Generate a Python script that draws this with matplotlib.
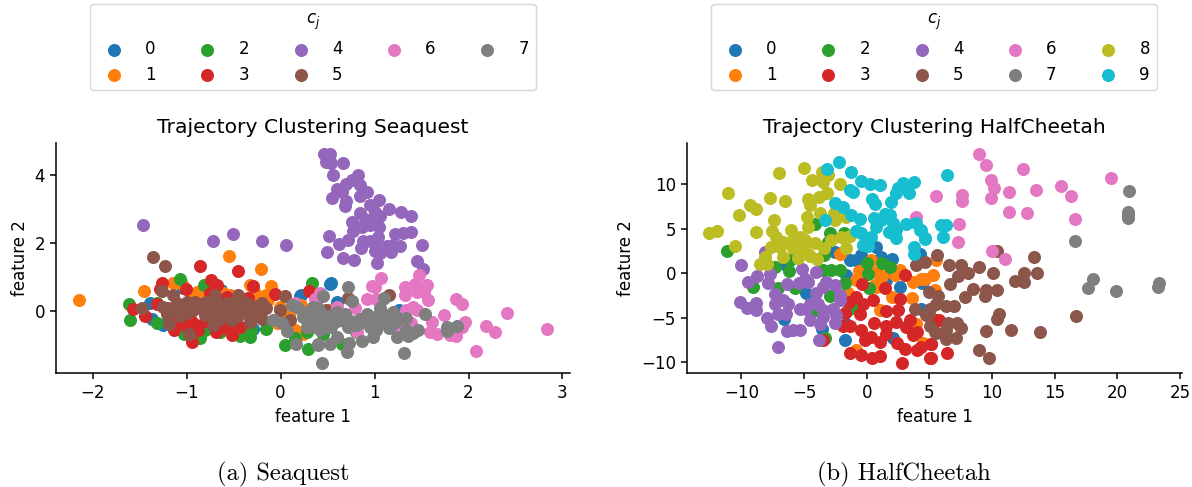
import matplotlib
matplotlib.use("Agg")
import matplotlib.pyplot as plt

#valores, um par de listas por cluster
sq_x_0 = [0.525, 0.213, -1.39, -1.37, -1.248, -1.035, -0.63, -0.29, 0.535, 0.596, 0.206, 1.26]
sq_y_0 = [0.81, 0.47, 0.23, -0.22, -0.41, 0.67, 0.62, -0.51, 0.83, 0.27, 0.45, 0.03]
sq_x_1 = [-2.14, -1.45, -0.546, -0.21, -1.14, -1.05, -0.326, -0.106, -0.894, -0.61, -0.54, -0.27, -0.15, -0.13, -0.18, -0.007, 0.1, 0.24, 0.15, 0.38, -0.04, 0.52, 0.22, -0.5, -0.4, -0.2, -0.25, -0.8, -0.95, 0.05, 0.1]
sq_y_1 = [0.34, 0.59, 1.62, 1.25, 0.84, 0.81, 0.76, 0.75, 0.57, 0.52, 0.47, 0.52, 0.47, 0.32, 0.08, 0.13, -0.02, -0.66, -0.56, -0.46, -0.36, 0.03, 0.18, 0.35, 0.35, 0.3, 0.4, 0.45, 0.45, -0.1, -0.45]
sq_x_2 = [-1.074, -0.81, 0.33, -1.617, -1.6, -1.32, -1.32, -1.025, -0.858, -0.8, -0.645, -0.433, -0.326, -0.31, -0.15, 0.046, 0.294, 0.15, 0.277, 0.454, 0.65, 0.8]
sq_y_2 = [0.94, 0.78, 0.84, 0.2, -0.27, -0.36, 0.23, -0.66, -0.8, -0.56, -0.61, -0.73, -0.77, -0.56, -0.53, -1.0, -1.12, -0.8, -0.61, -0.66, -0.95, -0.6]
sq_x_3 = [-0.858, -0.45, -0.738, -0.68, -0.29, -1.26, -1.284, -1.01, -0.06, 0.3, -1.32, -1.574, -1.447, -1.177, -1.13, -0.947, -1.035, -0.93, -0.876, -0.688, -0.52, -0.5, -0.43, -0.75, -0.344, -0.574, -0.965, -0.894, -0.95, -1.0, -0.6, -0.55, -0.8, -1.1]
sq_y_3 = [1.34, 1.17, 0.93, 0.76, 0.74, 0.84, 0.64, 0.66, 0.51, 0.59, 0.21, 0.05, -0.15, -0.05, -0.56, -0.9, -0.31, -0.36, -0.56, -0.61, -0.69, -0.51, -0.46, 0.52, 0.39, 0.42, -0.22, -0.46, -0.3, -0.45, -0.5, -0.35, -0.3, -0.35]
sq_x_4 = [-1.465, -0.72, -0.51, -0.2, 0.06, 0.46, 0.525, 0.48, 0.54, 0.667, 0.56, 0.826, 0.755, 0.7, 0.844, 0.596, 0.65, 0.915, 0.844, 0.55, 0.7, 0.685, 1.046, 0.95, 1.15, 1.277, 1.383, 0.844, 1.0, 1.057, 0.762, 0.897, 0.968, 0.862, 1.046, 0.95, 0.773, 0.52, 1.04, 1.216, 1.305, 1.383, 0.713, 0.624, 0.88, 0.95, 0.855, 1.02, 1.0, 1.135, 1.2, 1.27, 1.51, 1.18, 1.057, 0.667, 0.784, 1.03, 1.454, 1.518, 0.496]
sq_y_4 = [2.53, 2.06, 2.26, 2.07, 1.93, 4.62, 4.62, 4.39, 4.34, 4.34, 4.0, 4.0, 3.85, 3.75, 3.7, 3.6, 3.51, 3.51, 3.38, 3.31, 3.25, 3.09, 3.26, 3.12, 3.01, 2.92, 2.79, 2.89, 2.92, 2.79, 2.63, 2.7, 2.68, 2.48, 2.48, 2.53, 2.35, 2.2, 2.19, 2.28, 2.3, 2.33, 2.09, 1.96, 2.06, 2.06, 1.87, 1.89, 1.77, 1.92, 1.94, 1.92, 1.94, 1.73, 1.7, 1.55, 1.51, 1.42, 1.47, 1.23, 1.735]
sq_x_5 = [-1.358, -1.234, -1.47, -1.266, -1.15, -1.248, -1.213, -1.188, -1.07, -0.975, -1.106, -1.0, -0.91, -0.93, -0.79, -0.7, -0.716, -0.716, -0.82, -0.61, -0.45, -0.557, -0.468, -0.36, -0.52, -0.433, -0.326, -0.29, -0.2, -0.2, -0.24, -0.645, -0.007, 0.046, 0.1, 0.713, 1.156, 0.48, -1.2, -1.1, -1.0, -0.9, -0.85, -0.75, -0.65, -0.6, -0.55, -0.5, -0.4, -0.35, -0.3, -0.45, -0.25, -0.15, -0.7, -0.8, -1.05]
sq_y_5 = [1.59, 1.34, 0.09, 0.58, 0.49, 0.13, -0.07, -0.38, -0.15, -0.68, 0.23, 0.27, 0.27, 0.03, 0.27, 0.49, 0.03, -0.41, 0.08, -0.02, 0.47, 0.23, 0.23, 0.23, -0.26, -0.07, -0.31, 0.03, 0.23, -0.22, -0.02, -0.22, 0.03, 0.45, -0.26, 0.39, 0.47, 0.03, 0.1, 0.05, -0.05, 0.1, 0.2, 0.15, 0.2, 0.1, 0.0, 0.1, 0.1, 0.0, -0.15, -0.15, 0.15, 0.1, -0.1, -0.1, 0.15]
sq_x_6 = [1.064, 0.968, 1.0, 0.915, 1.02, 1.09, 1.32, 1.326, 1.43, 1.47, 1.553, 1.447, 1.525, 1.564, 1.87, 1.93, 1.737, 1.61, 1.588, 1.667, 1.8, 1.862, 1.96, 1.93, 2.19, 2.284, 2.408, 2.83, 2.075, 1.41, 1.34, 1.447, 1.39, 0.815, 0.79, 0.596, 0.42, 0.365, 1.16, 1.25, 0.383, 0.15]
sq_y_6 = [0.97, 0.74, 0.72, 0.35, 0.35, 0.37, 0.7, 0.47, 0.79, 1.06, 0.76, 0.57, 0.55, 0.34, 0.35, 0.21, -0.11, -0.31, -0.61, -0.68, -0.71, -0.74, -0.33, -0.46, -0.43, -0.61, -0.06, -0.53, -1.18, 0.13, 0.03, 0.03, -0.36, -0.61, 0.08, 0.13, 0.52, 0.37, -0.17, -0.46, 0.37, 0.23]
sq_x_7 = [0.713, 0.454, 0.755, 1.1, 0.436, 1.316, 0.71, 0.73, 0.87, 0.53, 0.4, 0.98, 1.24, 1.36, 1.33, 1.465, 1.404, 1.536, 1.333, 1.766, 1.766, 1.88, 1.2, 1.057, 1.09, 0.915, 0.844, 0.844, 0.596, 0.685, 0.72, 0.63, 0.54, 0.454, 0.42, 0.596, 0.277, 0.347, 0.24, 1.057, 1.02, 1.16, 1.21, 1.0, 0.42, 0.525, 0.12, 0.17, -0.08, 0.01, 0.064, 0.163, 0.394, 0.24, 0.35, 0.277, 0.49, 0.436, 0.3, 0.4, 0.45, 0.55, 0.6, 0.65, 0.75, 0.35, 0.5, 0.3, 0.95, 1.05, 1.1, 1.15, 0.95, 1.25, 1.15, 0.8]
sq_y_7 = [0.72, 0.45, 0.29, 0.39, -1.52, -1.23, -1.2, -0.92, -0.87, -0.95, -0.97, -0.75, -0.77, -0.74, -0.56, -0.56, -0.64, -0.09, -0.19, -0.46, -0.58, -0.43, -0.02, 0.08, -0.07, -0.07, -0.22, -0.34, -0.02, -0.07, -0.46, -0.26, -0.46, -0.36, -0.56, -0.75, -0.17, 0.13, -0.02, -0.36, -0.56, -0.31, -0.36, -0.17, -0.22, -0.22, 0.18, 0.13, -0.27, -0.36, -0.59, -0.97, -0.98, -0.17, -0.07, -0.46, -0.46, -0.26, 0.0, 0.1, -0.1, -0.1, -0.3, -0.15, -0.3, -0.3, -0.3, -0.45, -0.2, -0.2, -0.3, -0.15, -0.45, -0.25, -0.5, -0.4]

hc_x_0 = [0.77, -2.55, -1.36, -0.82, -0.43, 1.17, 2.02, 4.1, -1.62, 2.1, 2.63, 1.57, -4.87, -6.62, -1.76, -3.54, 2.1, 4.5, -6.4, 4.36, -1.62, 4.23, 4.44]
hc_y_0 = [2.96, 2.4, 1.46, 1.46, 2.02, 1.76, 1.54, 2.2, -0.22, 0.15, -1.54, -0.79, -2.21, -5.09, -7.45, -6.22, -7.23, -0.97, 0.9, -3.97, -5.66, 2.2, -1.16]
hc_x_1 = [-2.15, 0.37, -0.64, 0.77, 1.26, 2.63, 2.23, 3.7, 4.36, 5.29, 0.77, 2.02, 3.64, 1.04, -1.49, -0.82, 3.96, 4.5, -0.82, 5.56, 5.43, 0.64, 4.63]
hc_y_1 = [2.1, 1.46, 0.22, 0.15, -0.34, 0.34, -0.22, -0.97, -0.67, -0.22, -1.54, -2.73, -2.77, -4.16, -2.28, -0.79, -5.66, -7.79, -8.65, 1.46, -1.91, -1.35, -0.6]
hc_x_2 = [-11.12, -9.07, -7.34, -6.2, -6.14, -7.07, -5.74, -2.9, -1.84, -4.15, -3.09, -3.43, -3.48, -2.82, -2.15, -1.76, -2.95, 0.05, 1.2, 1.89, 0.13, 0.16, -3.3, -9.07, -4.02, -1.49, -0.82]
hc_y_2 = [2.51, -1.54, 0.64, 0.22, 1.46, -1.72, -1.72, 4.46, 4.46, 5.5, 3.52, 2.02, 0.34, 0.34, 0.34, -1.16, -2.58, 1.16, 1.09, 0.71, -0.04, -1.61, -7.23, -3.78, -4.16, -4.16, -3.78]
hc_x_3 = [3.06, -0.4, 1.44, 2.63, -0.82, -1.41, -1.76, -0.29, 0.5, -0.56, 1.52, 2.5, -1.89, -1.36, -0.43, 0.56, 1.57, 2.37, 3.43, 3.16, 0.37, 1.57, 3.7, -0.16, 1.09, 2.42, 3.03, 4.02, 5.16, -1.3, -0.43, 0.43, 1.04, 2.79, 5.08, 4.02, -3.48, 5.56, 5.11, 5.11, 6.44, 5.74, 4.36]
hc_y_3 = [-0.19, -1.27, -1.65, -2.92, -2.66, -3.22, -4.42, -3.41, -2.96, -4.53, -4.27, -4.16, -5.92, -5.96, -6.4, -5.58, -5.96, -5.47, -5.28, -6.03, -7.15, -6.78, -6.97, -7.53, -7.75, -7.79, -8.54, -8.65, -7.98, -8.91, -9.14, -9.48, -9.29, -10.07, -9.48, -6.6, -7.53, -5.28, -7.98, -9.51, -8.95, -5.28, -8.28]
hc_x_4 = [-10.03, -8.14, -8.75, -9.47, -7.87, -7.69, -10.11, -9.52, -8.8, -8.86, -7.34, -7.34, -6.68, -6.28, -7.07, -6.41, -7.95, -7.6, -6.36, -5.88, -5.3, -7.07, -6.36, -5.13, -4.07, -4.95, -4.68, -5.4, -2.55, -3.22, -3.48, -4.02, -2.15, -2.15, -4.55, -3.88, -5.35, -4.81, -3.48, -2.69, -2.42, -2.55, -4.55, -3.75, -3.48, -3.83]
hc_y_4 = [0.94, 2.4, -0.3, -0.94, -1.16, -0.04, -3.18, -3.9, -4.16, -3.3, -2.36, -3.41, -3.03, -3.41, -4.53, -4.53, -4.98, -5.88, -6.48, -6.4, -6.33, -8.31, -1.24, 0.52, 0.15, -0.6, -0.97, -1.16, -1.35, -0.97, -1.54, -2.28, -2.47, -3.03, -3.41, -3.41, -3.97, -3.97, -4.16, -3.97, -4.72, -5.58, -5.28, -5.66, -4.9, -7.45]
hc_x_5 = [10.4, 13.32, 5.61, 4.63, 6.6, 7.55, 8.96, 8.09, 7.29, 10.05, 12.58, 13.62, 11.86, 12.55, 6.65, 8.48, 10.43, 9.55, 9.44, 7.87, 4.97, 5.69, 5.56, 5.03, 6.3, 6.97, 4.76, 10.56, 10.4, 16.73, 5.03, 5.5, 6.49, 7.2, 7.55, 6.36, 6.36, 7.15, 9.52, 11.54, 13.86, 8.96, 9.73, 3.96, 3.83, 4.89, 5.43]
hc_y_5 = [2.51, 1.76, 2.02, 1.27, 0.9, 0.97, 0.64, 0.07, -0.3, 0.0, 0.0, 0.0, -0.86, -0.97, -1.2, -1.8, -1.91, -1.91, -2.55, -2.66, -2.13, -2.55, -3.41, -3.97, -3.67, -3.67, -4.72, -4.53, -5.17, -4.79, -5.92, -6.67, -5.58, -5.54, -6.1, -6.4, -7.34, -7.23, -6.52, -6.4, -6.59, -8.61, -9.48, 0.97, -4.04, -4.53, -6.6]
hc_x_6 = [8.96, 9.52, 12.45, 9.92, 10.16, 19.47, 15.48, 16.3, 13.5, 11.36, 9.92, 7.63, 7.58, 5.5, 11.38, 12.82, 16.62, 7.34, 7.29, 9.97, 11.04, 3.91]
hc_y_6 = [13.37, 12.1, 11.69, 10.41, 9.55, 10.71, 9.78, 8.61, 9.33, 9.14, 8.43, 8.76, 8.05, 8.69, 6.85, 6.7, 6.03, 5.5, 3.48, 2.43, 1.61, 6.33]
hc_x_7 = [20.96, 20.82, 20.85, 20.85, 16.62, 18.06, 17.63, 19.87, 23.32, 23.27]
hc_y_7 = [9.18, 6.89, 6.52, 6.14, 3.6, -0.67, -1.65, -2.02, -1.16, -1.54]
hc_x_8 = [-12.55, -11.94, -10.5, -11.09, -10.19, -9.34, -8.8, -7.74, -6.54, -6.97, -4.97, -3.54, -3.09, -4.34, -3.48, -2.13, -8.8, -7.39, -7.53, -7.2, -3.2, -3.8, -4.68, -4.5, -4.8, -3.75, -2.63, -2.55, -1.62, -4.68, -6.0, -5.35, -5.88, -4.95, -6.67, -7.6, -8.14, -8.54, -7.95, -6.67, -5.48, -4.68, -4.15, -3.96, -3.43, -2.82, -2.02, -1.36, -1.62, -6.94, -5.88, -5.08, -4.5]
hc_y_8 = [4.46, 4.68, 3.07, 8.99, 6.55, 7.64, 7.19, 8.39, 8.09, 11.27, 11.8, 11.31, 11.0, 10.45, 10.26, 9.96, 4.61, 5.96, 4.76, 4.08, 8.95, 8.58, 8.35, 7.64, 6.33, 6.7, 6.7, 5.96, 6.33, 5.2, 4.83, 4.08, 3.7, 3.7, 3.52, 2.88, 1.84, 1.0, 1.0, 1.84, 1.65, 2.2, 3.33, 1.54, 2.77, 3.7, 4.0, 4.16, 2.85, 2.96, 2.77, 2.96, 1.9]
hc_x_9 = [-2.18, -3.16, -1.28, -0.43, 0.24, 1.04, 3.78, 2.9, 2.5, 3.38, 2.37, 1.97, -1.36, -1.09, 0.45, 0.69, -2.5, -1.89, -1.22, -0.56, -3.32, 1.44, 1.84, 0.59, 1.17, 0.77, 2.1, 1.78, 2.37, 2.31, 3.16, 3.96, 4.23, 4.65, -0.82, -0.43, 0.37, -0.29, 0.11, 3.75, 3.8, 6.44, 5.96, 6.3, 6.09, 4.63, 4.36]
hc_y_9 = [12.5, 11.72, 11.31, 10.37, 10.04, 9.89, 10.22, 10.07, 9.59, 8.95, 8.95, 8.0, 9.33, 9.06, 8.28, 7.75, 7.83, 7.45, 6.52, 6.1, 5.96, 6.63, 6.52, 6.14, 5.96, 5.13, 5.58, 4.64, 4.83, 3.97, 5.47, 5.58, 4.83, 3.9, 4.76, 4.46, 4.0, 3.15, 3.03, 2.88, 2.2, 10.97, 5.39, 5.39, 4.08, 3.86, 4.83]

sq_x = [sq_x_0, sq_x_1, sq_x_2, sq_x_3, sq_x_4, sq_x_5, sq_x_6, sq_x_7]
sq_y = [sq_y_0, sq_y_1, sq_y_2, sq_y_3, sq_y_4, sq_y_5, sq_y_6, sq_y_7]
hc_x = [hc_x_0, hc_x_1, hc_x_2, hc_x_3, hc_x_4, hc_x_5, hc_x_6, hc_x_7, hc_x_8, hc_x_9]
hc_y = [hc_y_0, hc_y_1, hc_y_2, hc_y_3, hc_y_4, hc_y_5, hc_y_6, hc_y_7, hc_y_8, hc_y_9]

W, H = 1192, 487
FS = 12

#caixa em pixels da figura -> fracao
def caixa(x0, y0, x1, y1):
    return [x0 / W, 1 - y1 / H, (x1 - x0) / W, (y1 - y0) / H]

def painel(fig, box, xs, ys, titulo, xlim, ylim, xticks, yticks, leg_box):
    ax = fig.add_axes(caixa(*box))
    for i in range(len(xs)):
        ax.scatter(xs[i], ys[i], s=88, color="C%d" % i, linewidths=0, label=str(i))
    ax.set_xlim(*xlim)
    ax.set_ylim(*ylim)
    ax.set_xticks(xticks)
    ax.set_yticks(yticks)
    ax.spines["top"].set_visible(False)
    ax.spines["right"].set_visible(False)
    ax.tick_params(labelsize=FS, length=4.5, width=1.1)
    for s in ax.spines.values():
        s.set_linewidth(1.1)
    ax.set_xlabel("feature 1", fontsize=FS)
    ax.set_ylabel("feature 2", fontsize=FS)
    ax.set_title(titulo, fontsize=14.6, pad=7)
    ax.legend(title="$c_j$", ncol=5, fontsize=FS, title_fontsize=FS, loc="center",
              bbox_to_anchor=(leg_box[0] / W, 1 - leg_box[1] / H), bbox_transform=fig.transFigure,
              columnspacing=2.1, handletextpad=0.87, labelspacing=0.45)
    return ax

fig = plt.figure(figsize=(W / 100, H / 100), dpi=100)
painel(fig, (56, 143, 570, 373), sq_x, sq_y, "Trajectory Clustering Seaquest",
       (-2.39, 3.08), (-1.815, 4.94), [-2, -1, 0, 1, 2, 3], [0, 2, 4], (313, 47))
painel(fig, (687, 143, 1182, 373), hc_x, hc_y, "Trajectory Clustering HalfCheetah",
       (-14.34, 25.17), (-11.2, 14.6), [-10, -5, 0, 5, 10, 15, 20, 25], [-10, -5, 0, 5, 10], (934, 47))

fig.text(283 / W, 1 - 474 / H, "(a) Seaquest", family="cmr10", fontsize=17.6, ha="center", va="center")
fig.text(904 / W, 1 - 474 / H, "(b) HalfCheetah", family="cmr10", fontsize=17.6, ha="center", va="center")

fig.savefig("out.png", dpi=100)
